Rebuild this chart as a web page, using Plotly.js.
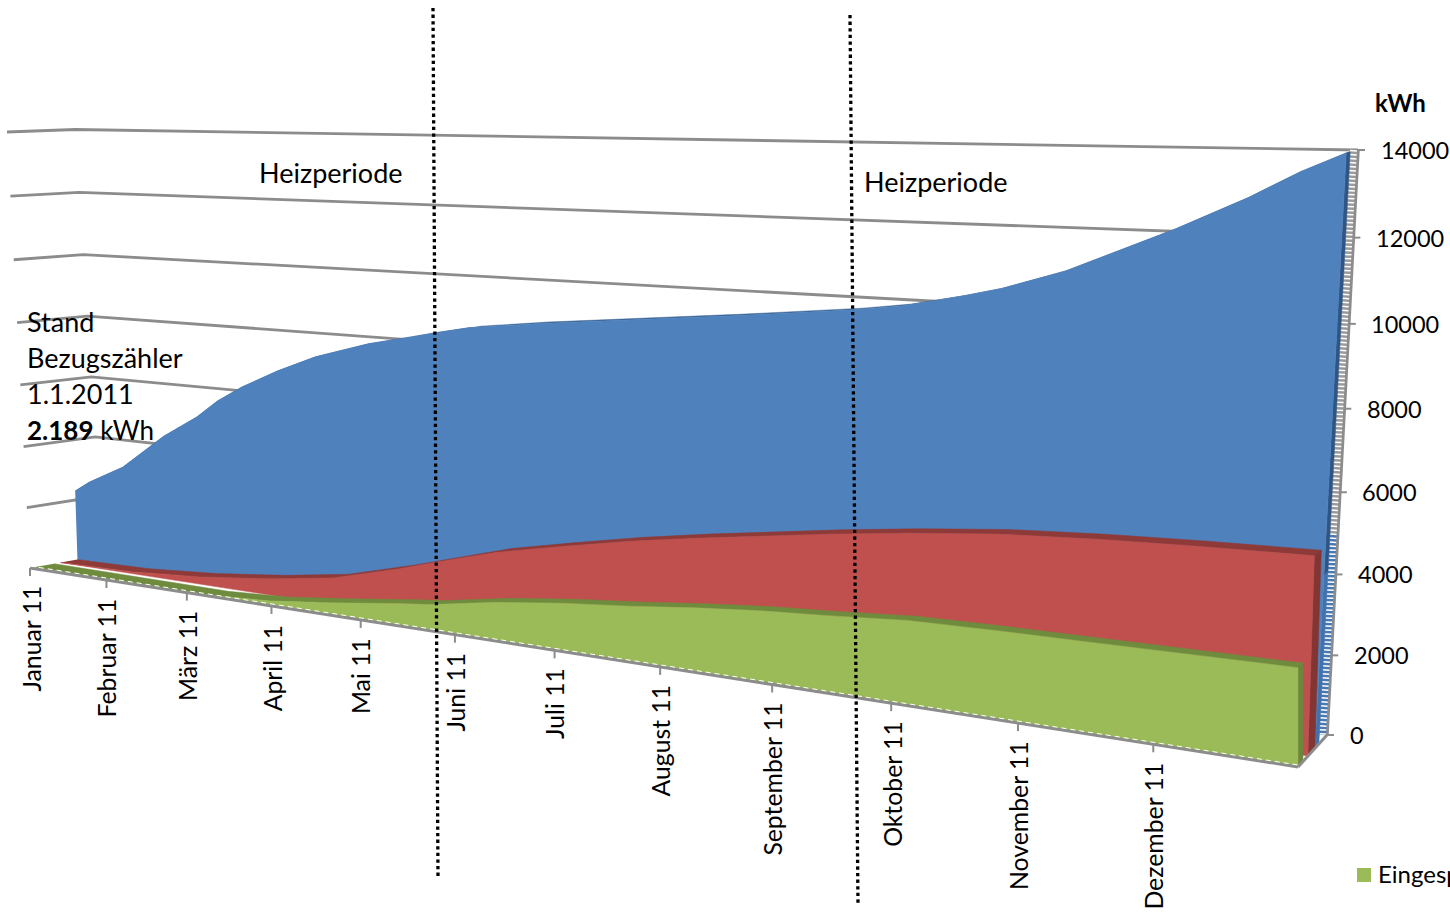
<!DOCTYPE html>
<html><head><meta charset="utf-8"><script src="https://cdn.plot.ly/plotly-3.0.1.min.js"></script>
<style>html,body{margin:0;padding:0;background:#fff;overflow:hidden}#c{width:1450px;height:913px}</style></head>
<body><div id="c"></div><script>
const monthLabels=["Januar 11","Februar 11","März 11","April 11","Mai 11","Juni 11","Juli 11","August 11","September 11","Oktober 11","November 11","Dezember 11"];
const yTicks=[0,2000,4000,6000,8000,10000,12000,14000];
const bezugMonths=[0,0.19,0.64,0.91,1.18,1.6,1.86,2.16,2.59,3.03,3.63,4.1,4.36,4.71,5.4,6.38,7.3,8.35,8.76,9.22,9.54,10.04,10.51,10.84,11.35,11.7,12];
const bezugValues=[2290,2640,3275,3845,4440,5165,5740,6250,6850,7375,7895,8195,8370,8580,8830,9130,9410,9760,9940,10250,10500,11020,11665,12135,12930,13555,14000];
const rotMonths=[0,0.95,1.8,2.64,3.38,4.13,4.49,5.16,5.83,6.49,7.11,7.71,8.29,8.96,9.69,10.45,11.18,12];
const rotValues=[0,60,235,510,835,1410,1730,2290,2715,3105,3420,3700,3960,4230,4470,4620,4720,4800];
const gruenMonths=[0,2.22,2.93,3.64,4.37,4.69,5.38,6.04,6.68,7.29,7.88,8.45,9.11,9.82,10.57,11.29,12];
const gruenValues=[0,0,115,355,635,740,1095,1345,1530,1740,1910,2025,2185,2235,2265,2300,2330];
const A=[30,568],E=[103,555],TA=[7,132],TE=[75,129.5],B=[1298,767],C=[1327,735],TB=[1330,157],TC=[1358,150];
const lerp=(p,q,t)=>[p[0]+(q[0]-p[0])*t,p[1]+(q[1]-p[1])*t];
function quad(p00,p10,p11,p01){const sx=p00[0]-p10[0]+p11[0]-p01[0],sy=p00[1]-p10[1]+p11[1]-p01[1],x1=p10[0]-p11[0],y1=p10[1]-p11[1],x2=p01[0]-p11[0],y2=p01[1]-p11[1],det=x1*y2-x2*y1,g=(sx*y2-x2*sy)/det,h=(x1*sy-sx*y1)/det,a=p10[0]-p00[0]+g*p10[0],b=p01[0]-p00[0]+h*p01[0],c=p00[0],d=p10[1]-p00[1]+g*p10[1],e=p01[1]-p00[1]+h*p01[1],f=p00[1];
 return (m,v)=>{const u=m/12,w=v/14000,D=g*u+h*w+1;return[(a*u+b*w+c)/D,(d*u+e*w+f)/D]}}
const plane=(dl,dr,tl,tr)=>{const p11=lerp(TB,TC,dr),p01=lerp(TA,TE,dl);return quad(lerp(A,E,dl),lerp(B,C,dr),[p11[0]+(tr||0),p11[1]],[p01[0]+(tl||0),p01[1]])};
const back=quad(E,C,TC,TE),front=plane(0,0),tickEdge=quad(A,B,[TB[0],150],TA);
const gF=plane(.05,0,0,-32),gB=plane(.33,.17,0,-32),rF=plane(.42,.34,0,-12),rB=plane(.65,.58,0,-12),bF=plane(.65,.58,12,0),bB=plane(.9,.72,12,0);
const zip=(ms,vs)=>ms.map((m,i)=>[m,vs[i]]);
const T=[];
const poly=(pts,col)=>T.push({x:pts.map(p=>p[0]),y:pts.map(p=>p[1]),mode:'lines',fill:'toself',fillcolor:col,line:{color:col,width:.5},hoverinfo:'skip',showlegend:false});
const line=(pts,col,w,dash)=>T.push({x:pts.map(p=>p[0]),y:pts.map(p=>p[1]),mode:'lines',line:{color:col,width:w,dash:dash||'solid'},hoverinfo:'skip',showlegend:false});
const GR='#8c8c8c';
yTicks.slice(1).forEach(v=>line([front(0,v),back(0,v),back(12,v)],GR,2.8));
function series(D,F,Bk,face,top,side,side2){
 const fr=D.map(d=>F(d[0],d[1])),bk=D.map(d=>Bk(d[0],d[1])).reverse();poly(fr.concat(bk),top);
 const e=D[D.length-1][1];
 if(side2){const s=e*.3;poly([F(12,0),F(12,s),Bk(12,s),Bk(12,0)],side2);poly([F(12,s),F(12,e),Bk(12,e),Bk(12,s)],side)}else poly([F(12,0),F(12,e),Bk(12,e),Bk(12,0)],side);
 poly(fr.concat([F(12,0),F(D[0][0],0)]),face)}
line([back(12,0),back(12,14000)],GR,3.5);
const hx=(v)=>{const p=back(12,v);return[p[0]-4.5,p[1]]};
line([hx(14000),hx(5000)],'#9a9a9a',7);line([hx(5000),hx(0)],'#4a78b0',7);line([hx(14000),hx(0)],'#fff',7,'1.5px,2.5px');
series(zip(bezugMonths,bezugValues),bF,bB,'#4F81BD','#3d6697','#2f5585','#4172ad');
series(zip(rotMonths,rotValues),rF,rB,'#C0504D','#8E3A38','#823533');
series(zip(gruenMonths,gruenValues),gF,gB,'#9BBB59','#6F8B3E','#6C873C');
line([B,C],GR,3);line([A,B],GR,3);line([[A[0],A[1]-2],[B[0],B[1]-2]],'#fff',1,'5px,4px');
const LF='Lato, Carlito, sans-serif';
const ann=[];
monthLabels.forEach((t,i)=>{const p=tickEdge(i,0);line([p,[p[0],p[1]+8]],GR,2);ann.push({x:p[0]+.5,y:p[1]+16,text:t,textangle:-90,xanchor:'center',yanchor:'top',showarrow:false,font:{family:LF,size:24.8,color:'#000'}})});
yTicks.forEach(v=>{const p=back(12,v);line([p,[p[0]+7,p[1]]],GR,2);ann.push({x:p[0]+20.5,y:p[1],text:String(v),xanchor:'left',yanchor:'middle',showarrow:false,font:{family:LF,size:23.5,color:'#000'}})});
line([[433,8],[438,878]],'#000',3.3,'3.3px,3.3px');line([[850,15],[858,905]],'#000',3.3,'3.3px,3.3px');
const txt=(x,y,t,s)=>ann.push({x,y,text:t,xanchor:'left',yanchor:'middle',showarrow:false,font:{family:LF,size:s,color:'#000'}});
txt(257,172.5,'Heizperiode',27);txt(862,181.5,'Heizperiode',27);txt(25,321.5,'Stand',27);txt(25,357.5,'Bezugszähler',27);txt(25,393.5,'1.1.2011',27);txt(25,429.5,'<b>2.189</b> kWh',26);txt(1373,102,'<b>kWh</b>',24);txt(1376,873,'Eingespeist',24);
T.push({x:[1364],y:[875],mode:'markers',marker:{symbol:'square',size:14,color:'#9BBB59'},hoverinfo:'skip',showlegend:false});
Plotly.newPlot('c',T,{width:1450,height:913,margin:{l:0,r:0,t:0,b:0},paper_bgcolor:'#fff',plot_bgcolor:'#fff',showlegend:false,xaxis:{range:[0,1450],visible:false,fixedrange:true},yaxis:{range:[913,0],visible:false,fixedrange:true},annotations:ann},{displayModeBar:false,staticPlot:true});
</script></body></html>
